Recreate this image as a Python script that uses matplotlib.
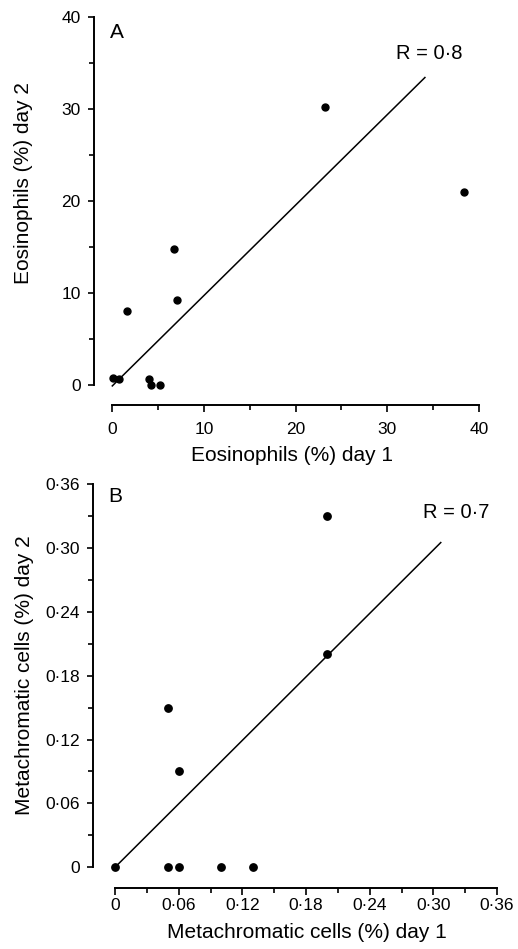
import matplotlib
matplotlib.use("Agg")
import matplotlib.pyplot as plt
from matplotlib.ticker import MultipleLocator, FuncFormatter

plt.rcParams['font.family'] = ['Liberation Sans', 'DejaVu Sans']

# Panel A: eosinophils
eos_day1 = [0.1, 0.7, 1.55, 4.0, 4.2, 5.2, 6.75, 7.1, 23.2, 38.4]
eos_day2 = [0.8, 0.6, 8.0, 0.7, 0.0, 0.0, 14.8, 9.25, 30.2, 21.0]
eos_fit_x = [0.0, 34.1]
eos_fit_y = [-0.1, 33.45]
eos_r = "R = 0·8"

# Panel B: metachromatic cells
meta_day1 = [0.0, 0.05, 0.06, 0.10, 0.13, 0.05, 0.06, 0.20, 0.20]
meta_day2 = [0.0, 0.0, 0.0, 0.0, 0.0, 0.15, 0.09, 0.33, 0.20]
meta_fit_x = [0.0, 0.307]
meta_fit_y = [0.0, 0.305]
meta_r = "R = 0·7"

eos_ticks = [0, 10, 20, 30, 40]
meta_ticks = [0, 0.06, 0.12, 0.18, 0.24, 0.30, 0.36]


def meta_fmt(v, pos):
    if abs(v) < 1e-9:
        return "0"
    return ("%.2f" % v).replace(".", "·")


fig = plt.figure(figsize=(5.18, 9.49), dpi=100)
W, H = 518.0, 949.0

axA = fig.add_axes([112.3 / W, (H - 385) / H, 366.7 / W, 367.7 / H])
axB = fig.add_axes([115 / W, (H - 867.3) / H, 382 / W, 383.3 / H])


def style(ax, xoff, yoff, xpad, ypad):
    ax.spines['top'].set_visible(False)
    ax.spines['right'].set_visible(False)
    ax.spines['left'].set_position(('outward', yoff))
    ax.spines['bottom'].set_position(('outward', xoff))
    for s in ('left', 'bottom'):
        ax.spines[s].set_linewidth(1.4)
    ax.tick_params(axis='both', which='major', direction='out', width=1.2,
                   labelsize=12.5, colors='black')
    ax.tick_params(axis='x', which='major', length=5, pad=xpad)
    ax.tick_params(axis='y', which='major', length=4.5, pad=ypad)
    ax.tick_params(axis='both', which='minor', direction='out', width=1.2)
    ax.tick_params(axis='x', which='minor', length=3.5)
    ax.tick_params(axis='y', which='minor', length=3.5)
    ax.patch.set_visible(False)


# ---- Panel A ----
axA.set_xlim(0, 40)
axA.set_ylim(0, 40)
axA.set_xticks(eos_ticks)
axA.set_yticks(eos_ticks)
axA.xaxis.set_minor_locator(MultipleLocator(5))
axA.yaxis.set_minor_locator(MultipleLocator(5))
style(axA, 14.4, 13.2, 7.5, 5)
axA.plot(eos_fit_x, eos_fit_y, color='black', lw=1.1, clip_on=False)
axA.plot(eos_day1, eos_day2, 'o', color='black', ms=5, clip_on=False)
axA.text(0.5, 38.4, "A", fontsize=15, ha='center', va='center')
axA.text(34.6, 36.1, eos_r, fontsize=14.5, ha='center', va='center')
axA.set_xlabel("Eosinophils (%) day 1", fontsize=15, va='center')
axA.set_ylabel("Eosinophils (%) day 2", fontsize=15, va='center')
axA.xaxis.set_label_coords(0.489, -0.193)
axA.yaxis.set_label_coords(-0.243, 0.548)

# ---- Panel B ----
axB.set_xlim(0, 0.36)
axB.set_ylim(0, 0.36)
axB.set_xticks(meta_ticks)
axB.set_yticks(meta_ticks)
axB.xaxis.set_minor_locator(MultipleLocator(0.03))
axB.yaxis.set_minor_locator(MultipleLocator(0.03))
axB.xaxis.set_major_formatter(FuncFormatter(meta_fmt))
axB.yaxis.set_major_formatter(FuncFormatter(meta_fmt))
style(axB, 15.1, 15.6, 2, 5)
axB.plot(meta_fit_x, meta_fit_y, color='black', lw=1.1, clip_on=False)
axB.plot(meta_day1, meta_day2, 'o', color='black', ms=5.3, clip_on=False)
axB.text(0.0, 0.348, "B", fontsize=15, ha='center', va='center')
axB.text(0.322, 0.333, meta_r, fontsize=14.5, ha='center', va='center')
axB.set_xlabel("Metachromatic cells (%) day 1", fontsize=15, va='center')
axB.set_ylabel("Metachromatic cells (%) day 2", fontsize=15, va='center')
axB.xaxis.set_label_coords(0.501, -0.171)
axB.yaxis.set_label_coords(-0.238, 0.502)

fig.savefig("out.png", dpi=100)
